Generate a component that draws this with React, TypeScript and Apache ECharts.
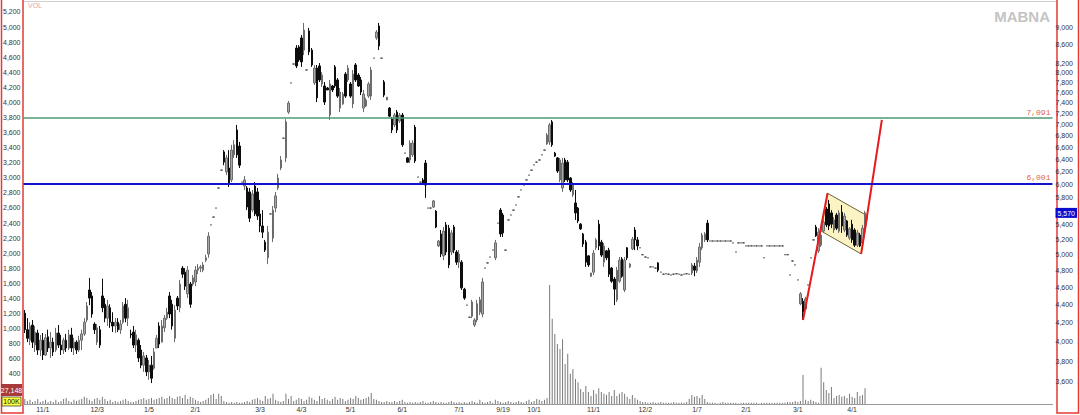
import React, { useEffect, useRef } from 'react';
import * as echarts from 'echarts';

const SLOT_COUNT = 398;
const dateTickIndex = [7, 28, 48, 66, 91, 107, 126, 146, 168, 185, 197, 220, 240, 260, 279, 299, 320];
const dateTickLabels = ['11/1', '12/3', '1/5', '2/1', '3/3', '4/3', '5/1', '6/1', '7/1', '9/19', '10/1', '11/1', '12/2', '1/7', '2/1', '3/1', '4/1'];
const priceTicks = [3600, 3800, 4000, 4200, 4400, 4600, 4800, 5000, 5200, 5400, 5600, 5800, 6000, 6200, 6400, 6600, 6800, 7000, 7200, 7400, 7600, 7800, 8000, 8200, 8600, 9000];
const lastPrice = 5570;
const resistance = 7091;
const support = 6001;
const priceMin = 3401;
const priceMax = 9551;
const volMax = 5306;
const lastVolume = '27,148';
const volUnit = '100K';

// [open, close, low, high]; a single number = flat day (open = close = low = high)
const candles: (number | number[])[] = [
  [4300,4120,4085,4335],[4120,4030,3990,4245],[4010,4160,3960,4200],[4170,3990,3930,4225],[3960,4095,3890,4160],
  [4085,3910,3860,4120],[3910,4010,3850,4065],[4010,3860,3810,4085],[3860,4035,3850,4075],[4045,3930,3890,4120],
  [3930,3990,3830,4095],[3990,3890,3850,4035],[3910,4085,3890,4140],[4085,3960,3930,4170],[3960,3910,3860,4065],
  [3910,4010,3870,4035],[4010,3930,3890,4075],[3930,4065,3910,4120],[4065,3930,3890,4140],[3930,3990,3860,4035],
  [3990,3910,3870,4010],[3910,4010,3890,4055],[4010,4075,3910,4120],[4075,4200,4055,4245],[4225,4380,4200,4425],
  [4565,4470,4390,4710],[4495,4290,4250,4540],[4180,4120,4075,4200],[3990,4140,3960,4180],[4120,3960,3930,4160],
  [4495,4360,4310,4700],[4400,4245,4200,4470],[4245,4380,4160,4450],[4360,4200,4140,4400],[4200,4160,4095,4310],
  [4160,4200,4085,4245],[4200,4120,4095,4245],[4120,4180,4075,4225],[4200,4380,4180,4425],[4400,4245,4200,4470],
  [4245,4360,4160,4450],[4075,4065,4030,4120],[4095,3960,3930,4160],[3960,4065,3890,4120],[4010,3830,3790,4030],
  [3910,3760,3730,3960],[3760,3850,3695,3890],[3830,3695,3655,3860],[3695,3760,3620,3810],[3760,3635,3590,3850],
  [3730,3890,3715,3930],[3930,4030,3930,4065],[4160,3970,3930,4200],[3990,4160,3990,4225],[4140,4245,4095,4280],
  [4245,4310,4225,4360],[4495,4290,4245,4540],[4400,4160,4120,4450],[4030,4335,3990,4390],[4470,4380,4335,4495],
  [4360,4635,4310,4685],[4830,4755,4710,4855],[4780,4610,4565,4830],[4520,4805,4470,4855],[4635,4400,4360,4660],
  [4635,4710,4610,4745],[4660,4805,4610,4855],[4805,4830,4755,4880],[4830,4845,4780,4870],[4805,4870,4780,4905],
  [4930,4960,4905,5000],[5010,5245,4960,5300],5400,5510,5640,
  5940,6220,[6520,6350,6300,6550],[6190,6420,6140,6470],[6255,6000,5955,6550],
  [6065,6550,6030,6640],[6470,6640,6420,6720],[6900,6470,6420,6990],[6620,6300,6255,6690],6030,
  [5970,6065,5910,6125],[5940,5655,5610,5970],[5880,5495,5440,5940],[5610,5850,5580,5910],[5970,5555,5525,6030],
  [5880,5525,5470,5940],[5555,5385,5300,5760],[5385,5300,5220,5610],[5165,5060,5035,5195],[4960,5300,4880,5385],
  5555,[5220,5610,5165,5670],[5640,5820,5580,5880],[5940,6095,5910,6160],[6255,6385,6220,6450],
  6755,[6420,7045,6350,7095],[7225,7395,7190,7435],7790,8180,
  [8525,8140,8095,8590],[8550,8265,8225,8590],[8750,8225,8120,8815],[8480,8930,8370,9095],8055,
  [8910,8440,8370,8980],[8480,8160,8120,8525],[7790,8095,7750,8160],[8095,7495,7415,8160],[8140,7850,7810,8200],
  [7770,7950,7710,8010],[7730,7415,7360,7810],[7690,7650,7650,7710],[7170,7770,7080,7850],[7730,7650,7610,7750],
  [8120,7730,7690,8160],[7850,7530,7495,7890],[7300,7610,7225,7690],[7380,7570,7360,7610],[7970,7530,7495,8010],
  [7850,8095,7810,8160],[7770,7530,7495,7810],[7380,7970,7300,8055],[8160,7850,7810,8200],[7950,7730,7710,7990],
  [7850,7610,7550,7910],[7300,7570,7225,7650],[7340,7455,7320,7495],[7530,7770,7495,7810],[7530,8055,7455,8120],
  8305,[8750,8885,8705,8930],[9025,8570,8480,9095],8305,[7810,7550,7510,7850],
  [7455,7510,7455,7510],[7300,7150,7135,7320],[7100,6900,6845,7135],[6990,7170,6950,7210],[7225,6900,6845,7265],
  [7060,7170,7025,7210],[7170,6640,6605,7210],6500,[6420,6350,6335,6435],[6385,6670,6335,6720],
  [6470,6670,6435,6720],[6950,6370,6335,6990],6110,6030,[6065,6000,5985,6095],
  [6335,5985,5790,6385],5640,5640,[5655,5745,5640,5760],[5595,5370,5355,5610],
  [5115,5180,5100,5195],[5275,5010,4970,5330],[4985,5315,4930,5370],[5400,5035,4995,5440],[5355,4870,4830,5400],
  [5035,5290,4995,5330],[5370,5060,5020,5400],[5035,4905,4870,5060],[4905,5010,4830,5060],[4905,4590,4565,4930],
  [4575,4470,4450,4590],4390,4255,[4265,4425,4245,4450],[4170,4225,4150,4245],
  [4225,4405,4200,4450],[4310,4450,4280,4485],[4290,4660,4255,4710],4830,4895,
  4970,5060,[4960,5155,4930,5195],5425,[5610,5275,5235,5640],
  [5540,5290,5235,5570],5060,5470,5540,5610,
  5685,5805,5910,5985,6065,6140,6220,6305,6350,6385,
  6470,6550,[6655,6810,6640,6845],[6690,6990,6640,7025],[7045,6640,6605,7080],
  [6500,6450,6435,6520],[6420,6205,6175,6435],[6065,6385,6030,6420],[5940,6335,5880,6420],[6385,6065,6030,6420],
  [6350,6065,6030,6385],[6095,5910,5880,6110],[5835,6000,5805,6030],[5715,5570,5470,5910],[5640,5455,5425,5655],
  [5410,5345,5330,5425],[5275,5140,5100,5290],[5165,4905,4845,5195],[4985,4870,4845,4995],[4730,4770,4720,4770],
  [4780,5020,4745,5060],[5090,5195,5060,5220],[5410,5115,5060,5470],[5165,4995,4970,5195],[4905,5115,4845,5155],
  [5050,4960,4930,5060],[5060,4755,4720,5090],[4830,4670,4650,4845],[4695,4575,4390,4720],[4450,4805,4425,4845],
  [4670,4930,4650,4970],[4945,4730,4710,4970],[4565,4930,4540,4970],[5090,4960,4930,5100],[4845,4880,4830,4895],
  [5075,5205,5060,5235],[5330,5195,5060,5370],[5195,5115,5060,5235],5090,5000,
  4970,4960,4845,4845,4830,
  [4895,4805,4780,4905],4780,4755,4760,4755,
  4745,4755,4760,4755,4745,4755,4760,4755,[4770,4870,4745,4895],[4855,4805,4730,4895],
  [4795,4930,4770,4970],[4905,5100,4845,5155],[5090,5260,5060,5290],[5195,5275,5165,5300],[5425,5195,5165,5470],
  5180,5180,5180,5180,5180,
  5180,5180,5180,5180,5155,5035,5155,5155,5155,5115,
  5115,5115,5115,5115,5115,5115,4960,5115,5115,5115,
  5115,5115,5115,5115,5000,5000,4745,4920,4870,4685,
  [4405,4520,4390,4540],[4435,4310,4225,4470],[4345,4460,4335,4485],4625,4960,
  5195,[5370,5250,5235,5400],[5050,5300,5020,5355],[5125,5260,5100,5300],[5315,5440,5290,5470],
  [5625,5400,5370,5655],[5700,5385,5330,5760],[5570,5410,5355,5610],[5330,5470,5290,5510],[5540,5355,5330,5570],
  [5315,5570,5290,5610],[5580,5385,5290,5685],[5330,5525,5300,5570],[5455,5260,5235,5470],[5220,5345,5195,5370],
  [5410,5195,5155,5470],[5330,5125,5100,5355],[5125,5290,5100,5330],[5260,5115,5100,5290],[5155,5355,5125,5400],
  [5355,5570,5330,5600],
];

const volume: number[] = [
  65,40,55,25,40,65,25,40,55,25, 40,25,55,25,40,65,80,40,25,55,
  40,55,65,95,80,55,40,65,80,55, 95,65,40,55,25,40,25,40,55,65,
  40,25,25,40,55,65,80,55,65,80, 55,65,80,95,65,80,105,80,65,95,
  105,80,120,65,95,80,55,40,25,40, 55,80,120,135,65,135,105,40,25,15,
  25,15,25,15,15,25,40,25,55,65, 80,55,40,105,65,80,135,55,40,25,
  40,135,65,105,40,55,80,65,40,55, 95,80,55,40,105,65,80,55,40,65,
  95,55,80,65,40,55,80,65,105,80, 55,65,80,95,145,65,55,40,25,25,
  40,25,25,40,25,40,55,25,15,25, 15,25,15,25,40,15,15,25,40,25,
  15,25,15,15,25,40,25,15,25,15, 25,15,25,40,25,15,55,25,15,25,
  40,15,55,40,25,15,25,40,25,15, 25,40,25,15,40,55,25,40,65,55,
  40,55,80,1580,1130,930,795,730,860,530, 665,400,465,330,290,200,160,240,160,105,
  185,135,210,160,135,120,160,105,185,105, 135,160,135,95,65,120,80,55,40,25,
  25,15,15,25,15,15,25,15,15,15, 15,25,15,15,15,15,25,65,120,95,
  105,80,120,65,25,15,15,15,5,15, 25,15,15,15,15,15,5,15,15,15,
  15,15,15,15,5,15,15,15,15,15, 15,15,15,15,15,25,25,25,40,25,
  40,385,55,40,55,40,25,15,480,290, 185,145,225,80,105,120,95,105,80,135,
  95,80,160,105,120,210,
];

// drawn pattern: flag pole, flag channel and projected breakout (slot index, price)
const poleLine = [[301, 4225], [310.5, 5860]];
const breakoutLine = [[323.5, 5010], [331.5, 7080]];
const flagChannel = [[310.5, 5860], [326, 5525], [323.5, 5010], [308, 5315]];

const ln = Math.log;
const fmt = (v: number) => v.toLocaleString('en-US');

export default function App() {
  const ref = useRef<HTMLDivElement>(null);
  useEffect(() => {
    if (!ref.current) return;
    const chart = echarts.init(ref.current, undefined, { renderer: 'svg' });
    const ohlc = candles.map((c) => (typeof c === 'number' ? [c, c, c, c] : c).map(ln));
    const cats = Array.from({ length: SLOT_COUNT }, (_, i) => String(i));
    const labelAt: Record<number, string> = {};
    dateTickIndex.forEach((idx, k) => { labelAt[idx] = dateTickLabels[k]; });
    const font = 'Liberation Sans';

    chart.setOption({
      animation: false,
      backgroundColor: '#ffffff',
      textStyle: { fontFamily: font },
      grid: { left: 23, right: 23, top: 4, bottom: 11, containLabel: false },
      xAxis: [
        {
          type: 'category', data: cats, boundaryGap: true,
          axisLine: { lineStyle: { color: '#9a9a9a', width: 1 } },
          axisTick: { show: false }, splitLine: { show: false },
          axisLabel: {
            interval: 0, fontSize: 7, color: '#333', margin: 2, fontFamily: font,
            formatter: (_v: string, i: number) => labelAt[i] ?? '',
          },
        },
        { type: 'value', min: -0.5, max: SLOT_COUNT - 0.5, show: false },
      ],
      yAxis: [
        {
          type: 'value', position: 'left', min: 0, max: volMax, interval: 200,
          axisLine: { show: false }, axisTick: { show: false }, splitLine: { show: false },
          axisLabel: {
            fontSize: 7, color: '#333', margin: 3, fontFamily: font,
            formatter: (v: number) => (v < 400 || v > 5200 ? '' : fmt(v)),
          },
        },
        {
          type: 'value', position: 'right', min: ln(priceMin), max: ln(priceMax),
          axisLine: { show: false }, axisTick: { show: false }, splitLine: { show: false },
          axisLabel: {
            customValues: [...priceTicks, lastPrice].map(ln),
            fontSize: 7, color: '#333', margin: 3, fontFamily: font,
            formatter: (v: number) => {
              const p = Math.round(Math.exp(v));
              return p === lastPrice ? `{cur|${fmt(p)}}` : fmt(p);
            },
            rich: { cur: { backgroundColor: '#0b0bd0', color: '#ffffff', fontSize: 7, padding: [2, 2, 1, 2], fontFamily: font } },
          },
        },
      ],
      series: [
        {
          type: 'custom', name: 'flag', xAxisIndex: 1, yAxisIndex: 1, z: 1, silent: true,
          data: [[flagChannel[0][0], ln(flagChannel[0][1])]],
          renderItem: (_p: any, api: any) => ({
            type: 'polygon',
            shape: { points: flagChannel.map((p) => api.coord([p[0], ln(p[1])])) },
            style: { fill: '#fbf3c3', stroke: '#6e6234', lineWidth: 1 },
          }),
        },
        {
          type: 'bar', name: 'VOL', xAxisIndex: 0, yAxisIndex: 0, data: volume, barWidth: 1, z: 2, silent: true,
          itemStyle: { color: '#7a7a7a' },
        },
        {
          type: 'candlestick', name: 'MABNA', xAxisIndex: 0, yAxisIndex: 1, data: ohlc, barWidth: 2, z: 3,
          itemStyle: {
            color: '#a8a8a8', color0: '#0d0d0d', borderColor: '#6c6c6c', borderColor0: '#0d0d0d',
            borderColorDoji: '#444444', borderWidth: 1,
          },
          markLine: {
            silent: true, symbol: ['none', 'none'],
            data: [
              {
                yAxis: ln(resistance), lineStyle: { color: '#4f9a74', width: 1.5, type: 'solid' },
                label: { show: true, position: 'insideEndTop', formatter: () => fmt(resistance), color: '#e0673f', fontSize: 8, fontFamily: 'Liberation Mono', distance: 2 },
              },
              {
                yAxis: ln(support), lineStyle: { color: '#1414cc', width: 2, type: 'solid' },
                label: { show: true, position: 'insideEndTop', formatter: () => fmt(support), color: '#e0673f', fontSize: 8, fontFamily: 'Liberation Mono', distance: 2 },
              },
            ],
          },
        },
        {
          type: 'line', name: 'pole', xAxisIndex: 1, yAxisIndex: 1, z: 4, silent: true, symbol: 'none',
          data: poleLine.map(([x, p]) => [x, ln(p)]),
          lineStyle: { color: '#e8191c', width: 2 },
        },
        {
          type: 'line', name: 'breakout', xAxisIndex: 1, yAxisIndex: 1, z: 4, silent: true, symbol: 'none',
          data: breakoutLine.map(([x, p]) => [x, ln(p)]),
          lineStyle: { color: '#e8191c', width: 2 },
        },
      ],
      graphic: [
        { type: 'line', shape: { x1: 23, y1: 1.5, x2: 1057, y2: 1.5 }, style: { stroke: '#cfcfcf', lineWidth: 1 } },
        { type: 'rect', shape: { x: 1.5, y: -2, width: 21.5, height: 415 }, style: { fill: 'none', stroke: '#e53935', lineWidth: 1.5 } },
        { type: 'rect', shape: { x: 1057, y: -2, width: 21.5, height: 415 }, style: { fill: 'none', stroke: '#e53935', lineWidth: 1.5 } },
        { type: 'rect', shape: { x: 1, y: 384, width: 21, height: 12 }, style: { fill: '#a83a3a' } },
        { type: 'text', x: 11.5, y: 390.5, style: { text: lastVolume, fill: '#ffffff', fontSize: 7, fontFamily: font, align: 'center', verticalAlign: 'middle' } },
        { type: 'rect', shape: { x: 2, y: 397, width: 19, height: 9 }, style: { fill: '#ffff3a', stroke: '#444', lineWidth: 0.8 } },
        { type: 'text', x: 11.5, y: 401.8, style: { text: volUnit, fill: '#111', fontSize: 7, fontFamily: font, align: 'center', verticalAlign: 'middle' } },
        { type: 'text', x: 28, y: 5, style: { text: 'VOL', fill: '#e2a2a2', fontSize: 7, fontFamily: font, verticalAlign: 'middle' } },
        { type: 'text', x: 1050, y: 16, style: { text: 'MABNA', fill: '#c4c4c4', fontSize: 15, fontWeight: 'bold', fontFamily: font, align: 'right', verticalAlign: 'middle' } },
      ],
    });
    return () => chart.dispose();
  }, []);
  return <div ref={ref} style={{ position: 'fixed', left: 0, top: 0, width: 1080, height: 415 }} />;
}
